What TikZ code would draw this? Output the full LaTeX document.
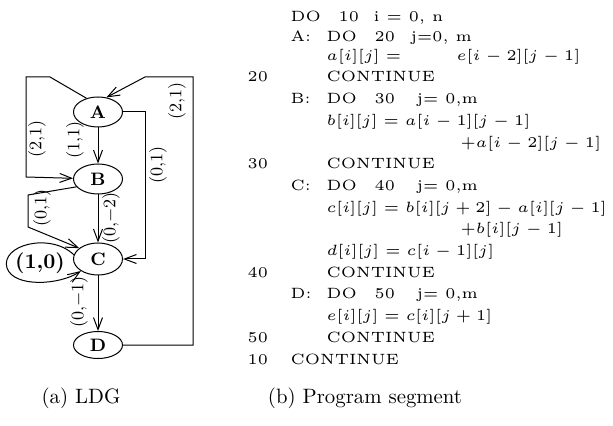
\documentclass[tikz,border=0pt]{standalone}
\usetikzlibrary{shapes.geometric,arrows.meta}
\begin{document}
\begin{tikzpicture}[x=0.5pt,y=-0.5pt,
  st/.style={ellipse, draw, line width=0.5pt, minimum width=24.5pt, minimum height=15pt, inner sep=0pt, font=\fontsize{9}{10}\selectfont\bfseries},
  arr/.style={line width=0.5pt, -{Straight Barb[length=6pt,width=4.5pt]}},
  lab/.style={rotate=90, inner sep=0pt, font=\fontsize{8.8}{10}\selectfont},
  code/.style={anchor=base west, inner sep=0pt, font=\fontsize{5}{6}\selectfont, scale=1.49},
  captext/.style={anchor=base, inner sep=0pt, font=\fontsize{10.4}{12}\selectfont}]
\useasboundingbox (0,0) rectangle (613,426);

% graph nodes
\node[st] (A) at (98,112) {A};
\node[st] (B) at (98,179) {B};
\node[st, minimum height=16pt] (C) at (98,259) {C};
\node[st, minimum height=13.5pt] (D) at (98,345) {D};

% connectors
\draw[arr] (A) -- (B);
\draw[arr] (A.130) -- (50,77) -- (26,77) -- (26,177) -- (B);
\draw[arr] (D.east) -| (193,77) -- (145,77) -- (A.60);
\draw[arr] (A.east) -- ++(22.5,0) |- (C.east);
\draw[arr] (B) -- (C);
\draw[arr] (B.200) -- (28,195) -- (28,227) -- (C.150);
\draw[arr] (C) -- (D);
\draw[arr] (C.170) .. controls (50,232) and (0,245) .. (7,268)
                   .. controls (14,288) and (60,285) .. (C.215);

% edge labels
\node[lab] (l1) at (75,140) {(1,1)};
\node[lab] (l2) at (37,139) {(2,1)};
\node[lab] (l3) at (177,101) {(2,1)};
\node[lab] (l4) at (158,165) {(0,1)};
\node[lab] (l5) at (111,218) {(0,$-$2)};
\node[lab] (l6) at (42,208) {(0,1)};
\node[lab] (l7) at (79,302) {(0,$-$1)};
\node[inner sep=0pt, font=\fontsize{10.5}{12}\selectfont\bfseries] (l8) at (40,263) {(1,0)};

% program text
\node[code] (k0a) at (290,22) {DO};
\node[code] (k0b) at (338,22) {10};
\node[code] (k0c) at (373,22) {i = 0, n};

\node[code] (k1a) at (290,42) {A:};
\node[code] (k1b) at (326,42) {DO};
\node[code] (k1c) at (374,42) {20};
\node[code] (k1d) at (410,42) {j=0, m};

\node[code] (k2a) at (326,61) {$a[i][j] =$};
\node[code] (k2b) at (456,61) {$e[i-2][j-1]$};

\node[code] (k3a) at (247,82) {20};
\node[code] (k3b) at (326,82) {CONTINUE};

\node[code] (k4a) at (290,103.7) {B:};
\node[code] (k4b) at (326,103.7) {DO};
\node[code] (k4c) at (374,103.7) {30};
\node[code] (k4d) at (416,103.7) {j= 0,m};

\node[code] (k5a) at (326,125.4) {$b[i][j] = a[i-1][j-1]$};
\node[code] (k6a) at (460,147.1) {$+a[i-2][j-1]$};

\node[code] (k7a) at (247,168.8) {30};
\node[code] (k7b) at (326,168.8) {CONTINUE};

\node[code] (k8a) at (290,190.5) {C:};
\node[code] (k8b) at (326,190.5) {DO};
\node[code] (k8c) at (374,190.5) {40};
\node[code] (k8d) at (416,190.5) {j= 0,m};

\node[code] (k9a) at (326,212.2) {$c[i][j] = b[i][j+2] - a[i][j-1]$};
\node[code] (k10a) at (460,233.9) {$+b[i][j-1]$};
\node[code] (k11a) at (326,255.6) {$d[i][j] = c[i-1][j]$};

\node[code] (k12a) at (247,277.3) {40};
\node[code] (k12b) at (326,277.3) {CONTINUE};

\node[code] (k13a) at (290,299) {D:};
\node[code] (k13b) at (326,299) {DO};
\node[code] (k13c) at (374,299) {50};
\node[code] (k13d) at (416,299) {j= 0,m};

\node[code] (k14a) at (326,320.7) {$e[i][j] = c[i][j+1]$};

\node[code] (k15a) at (247,342.4) {50};
\node[code] (k15b) at (326,342.4) {CONTINUE};

\node[code] (k16a) at (247,364.1) {10};
\node[code] (k16b) at (290,364.1) {CONTINUE};

% captions
\node[captext] (capa) at (81,403) {(a) LDG};
\node[captext] (capb) at (365,403) {(b) Program segment};
\end{tikzpicture}
\end{document}
